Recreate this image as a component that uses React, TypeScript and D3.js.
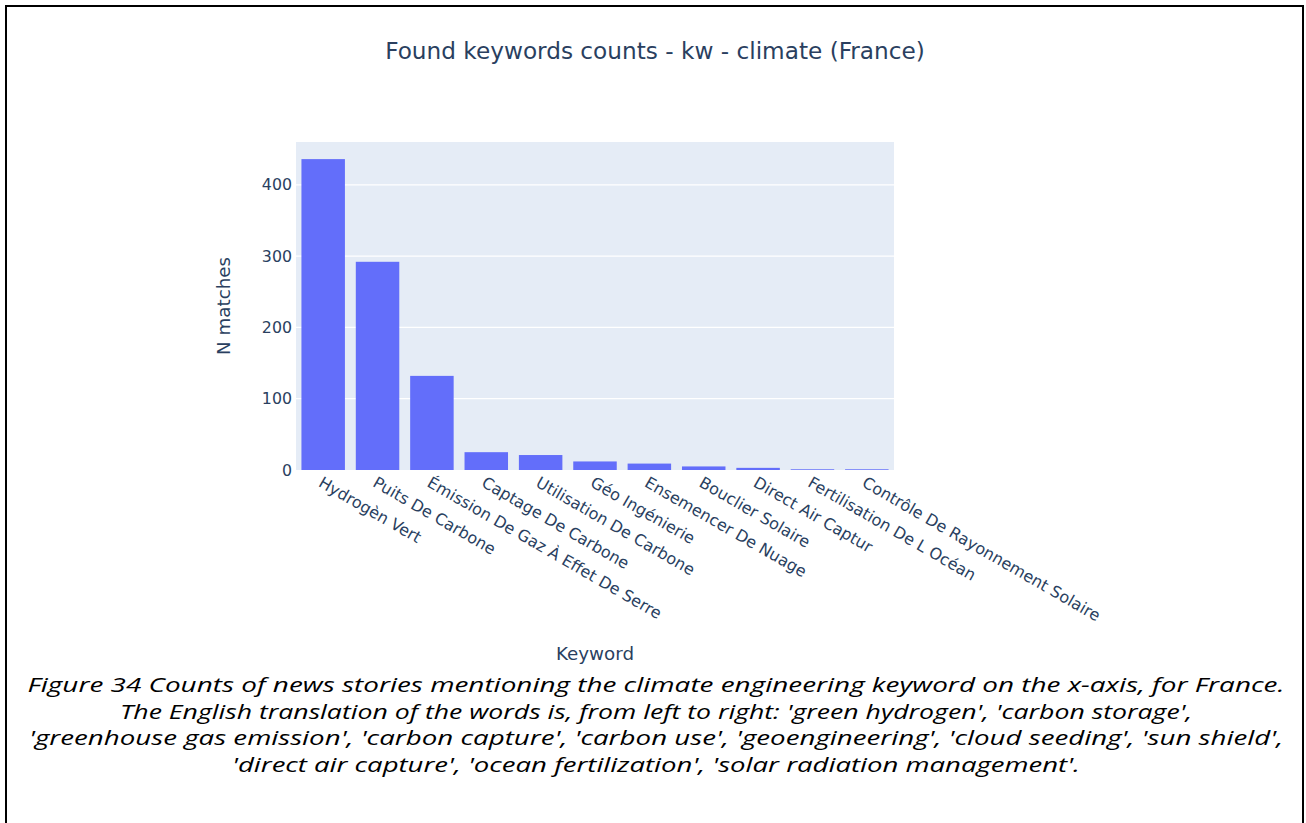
import React from 'react';
import * as d3 from 'd3';

const categories = [
  'Hydrogèn Vert',
  'Puits De Carbone',
  'Émission De Gaz À Effet De Serre',
  'Captage De Carbone',
  'Utilisation De Carbone',
  'Géo Ingénierie',
  'Ensemencer De Nuage',
  'Bouclier Solaire',
  'Direct Air Captur',
  'Fertilisation De L Océan',
  'Contrôle De Rayonnement Solaire',
];
const counts = [436, 292, 132, 25, 21, 12, 9, 5, 3, 1, 1];
const yTicks = [0, 100, 200, 300, 400];
const titleText = 'Found keywords counts - kw - climate (France)';
const xTitle = 'Keyword';
const yTitle = 'N matches';
const captionLines = [
  'Figure 34 Counts of news stories mentioning the climate engineering keyword on the x-axis, for France.',
  "The English translation of the words is, from left to right: 'green hydrogen', 'carbon storage',",
  "'greenhouse gas emission', 'carbon capture', 'carbon use', 'geoengineering', 'cloud seeding', 'sun shield',",
  "'direct air capture', 'ocean fertilization', 'solar radiation management'.",
];
const captionWidths = [1257, 1072, 1254, 848];

const W = 1306;
const H = 823;
const plot = { left: 296, right: 894, top: 142, bottom: 470 };
const textColor = '#2a3f5f';
const font = '"DejaVu Sans", Verdana, sans-serif';

export default function App() {
  const x = d3
    .scaleBand<string>()
    .domain(categories)
    .range([plot.left, plot.right])
    .paddingInner(0.2)
    .paddingOuter(0.1);
  const y = d3.scaleLinear().domain([0, 460]).range([plot.bottom, plot.top]);

  return (
    <div style={{ position: 'absolute', left: 0, top: 0 }}>
      <svg width={W} height={H} style={{ display: 'block', background: '#fff' }}>
        <path d={`M6,823 L6,6 L1303,6 L1303,823`} fill="none" stroke="#000" strokeWidth={2} />

        <text x={655} y={50} textAnchor="middle" dominantBaseline="central" fill={textColor} fontFamily={font} fontSize={23.2}>
          {titleText}
        </text>

        <rect x={plot.left} y={plot.top} width={plot.right - plot.left} height={plot.bottom - plot.top} fill="#e5ecf6" />
        {yTicks.filter((t) => t > 0).map((t) => (
          <line key={t} x1={plot.left} x2={plot.right} y1={y(t)} y2={y(t)} stroke="#fff" strokeWidth={1.3} />
        ))}

        {categories.map((c, i) => (
          <rect key={c} x={x(c)} y={y(counts[i])} width={x.bandwidth()} height={y(0) - y(counts[i])} fill="#636efa" />
        ))}

        {yTicks.map((t) => (
          <text key={t} x={plot.left - 4} y={y(t)} textAnchor="end" dominantBaseline="central" fill={textColor} fontFamily={font} fontSize={15.8}>
            {t}
          </text>
        ))}

        {categories.map((c) => {
          const cx = (x(c) as number) + x.bandwidth() / 2;
          return (
            <text
              key={c}
              transform={`translate(${cx - 3},${plot.bottom + 11}) rotate(30)`}
              textAnchor="start"
              dy="0.35em"
              fill={textColor}
              fontFamily={font}
              fontSize={16}
            >
              {c}
            </text>
          );
        })}

        <text
          transform={`translate(223,306) rotate(-90)`}
          textAnchor="middle"
          dominantBaseline="central"
          fill={textColor}
          fontFamily={font}
          fontSize={18.3}
        >
          {yTitle}
        </text>
        <text x={(plot.left + plot.right) / 2} y={653} textAnchor="middle" dominantBaseline="central" fill={textColor} fontFamily={font} fontSize={18.3}>
          {xTitle}
        </text>

        {captionLines.map((l, i) => (
          <text
            key={i}
            x={656}
            y={692 + i * 26.7}
            textAnchor="middle"
            fill="#000"
            fontFamily='"Open Sans", sans-serif'
            fontStyle="italic"
            fontSize={20}
            textLength={captionWidths[i]}
            lengthAdjust="spacingAndGlyphs"
          >
            {l}
          </text>
        ))}
      </svg>
    </div>
  );
}
